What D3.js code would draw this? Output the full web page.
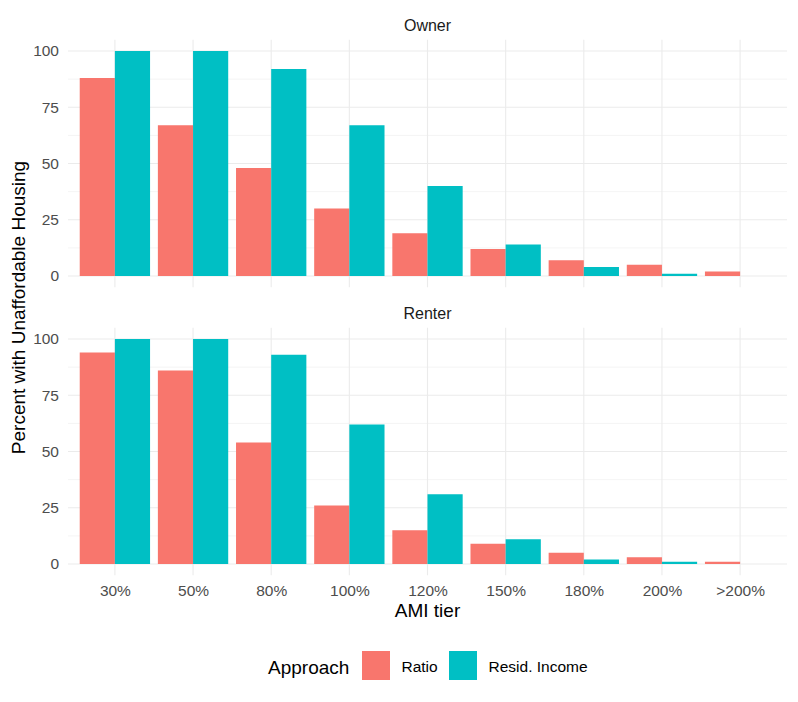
<!DOCTYPE html>
<html>
<head>
<meta charset="utf-8">
<script src="https://cdn.jsdelivr.net/npm/d3@7"></script>
<style>
  body { margin: 0; background: #fff; }
  svg { font-family: "Liberation Sans", Arial, sans-serif; }
</style>
</head>
<body>
<svg id="chart" width="798" height="702"></svg>
<script>
// data
var tiers = ['30%', '50%', '80%', '100%', '120%', '150%', '180%', '200%', '>200%'];
var approaches = ['Ratio', 'Resid. Income'];
var facets = ['Owner', 'Renter'];
var yTicks = [0, 25, 50, 75, 100];

var ownerRatio  = [88, 67, 48, 30, 19, 12, 7, 5, 2];
var ownerResid  = [100, 100, 92, 67, 40, 14, 4, 1, 0];
var renterRatio = [94, 86, 54, 26, 15, 9, 5, 3, 1];
var renterResid = [100, 100, 93, 62, 31, 11, 2, 1, 0];

var colors = ['#F8766D', '#00BFC4'];

var seriesByFacet = {
    'Owner': [ownerRatio, ownerResid],
    'Renter': [renterRatio, renterResid]
};

var svg = d3.select('#chart');

var panel = { left: 68, right: 787 };
var panelTops = [39.75, 327.75];
var panelHeight = 247.5;

// discrete axis with ggplot-like 0.6 expansion
var xScale = d3.scalePoint()
                .domain(tiers)
                .range([panel.left, panel.right])
                .padding(0.6);
var step = xScale.step();
var bandW = step * 0.9;
var barW = bandW / 2;

facets.forEach(function(facet, fi) {
    var top = panelTops[fi];
    var yScale = d3.scaleLinear()
                    .domain([-5, 105])
                    .range([top + panelHeight, top]);

    var g = svg.append('g').classed('panel', true);

    // minor gridlines
    g.selectAll('.minor')
        .data([12.5, 37.5, 62.5, 87.5])
        .enter().append('line')
            .attr('x1', panel.left).attr('x2', panel.right)
            .attr('y1', d => yScale(d)).attr('y2', d => yScale(d))
            .attr('stroke', '#ebebeb')
            .attr('stroke-width', 0.55);

    // major gridlines
    g.selectAll('.major')
        .data(yTicks)
        .enter().append('line')
            .attr('x1', panel.left).attr('x2', panel.right)
            .attr('y1', d => yScale(d)).attr('y2', d => yScale(d))
            .attr('stroke', '#ebebeb')
            .attr('stroke-width', 1.1);

    g.selectAll('.vgrid')
        .data(tiers)
        .enter().append('line')
            .attr('x1', d => xScale(d)).attr('x2', d => xScale(d))
            .attr('y1', top).attr('y2', top + panelHeight)
            .attr('stroke', '#ebebeb')
            .attr('stroke-width', 1.1);

    // bars
    var series = seriesByFacet[facet];
    series.forEach(function(vals, si) {
        g.selectAll('.bar-' + si)
            .data(vals.map((v, i) => ({ tier: tiers[i], value: v })))
            .enter().append('rect')
                .attr('x', d => xScale(d.tier) - bandW / 2 + si * barW)
                .attr('width', barW)
                .attr('y', d => yScale(d.value))
                .attr('height', d => yScale(0) - yScale(d.value))
                .attr('fill', colors[si]);
    });

    // y axis labels
    var yAxis = d3.axisLeft(yScale)
                    .tickValues(yTicks)
                    .tickSize(0)
                    .tickPadding(9);
    var ya = g.append('g')
        .attr('transform', `translate(${panel.left}, 0)`)
        .call(yAxis);
    ya.select('.domain').remove();
    ya.selectAll('text')
        .attr('fill', '#4d4d4d')
        .style('font-size', '15.5px');

    // strip label
    g.append('text')
        .attr('x', (panel.left + panel.right) / 2)
        .attr('y', top - 9)
        .attr('text-anchor', 'middle')
        .attr('fill', '#1a1a1a')
        .style('font-size', '16px')
        .text(facet);
});

// x axis labels below the bottom panel
var xAxis = d3.axisBottom(xScale).tickSize(0).tickPadding(10);
var xa = svg.append('g')
    .attr('transform', `translate(0, ${panelTops[1] + panelHeight})`)
    .call(xAxis);
xa.select('.domain').remove();
xa.selectAll('text')
    .attr('fill', '#4d4d4d')
    .style('font-size', '15.5px');

// axis titles
svg.append('text')
    .attr('x', (panel.left + panel.right) / 2)
    .attr('y', 617)
    .attr('text-anchor', 'middle')
    .attr('fill', '#000')
    .style('font-size', '19px')
    .text('AMI tier');

svg.append('text')
    .attr('transform', 'rotate(-90)')
    .attr('x', -(panelTops[0] + panelTops[1] + panelHeight) / 2)
    .attr('y', 25)
    .attr('text-anchor', 'middle')
    .attr('fill', '#000')
    .style('font-size', '19px')
    .text('Percent with Unaffordable Housing');

// legend
var legend = svg.append('g').attr('transform', 'translate(268, 651)');
legend.append('text')
    .attr('x', 0)
    .attr('y', 23)
    .attr('fill', '#000')
    .style('font-size', '19px')
    .text('Approach');

var keyX = [94, 181];
approaches.forEach(function(a, i) {
    legend.append('rect')
        .attr('x', keyX[i])
        .attr('y', 0)
        .attr('width', 28)
        .attr('height', 29)
        .attr('fill', colors[i]);
    legend.append('text')
        .attr('x', keyX[i] + 39.5)
        .attr('y', 21)
        .attr('fill', '#000')
        .style('font-size', '15.5px')
        .text(a);
});
</script>
</body>
</html>
